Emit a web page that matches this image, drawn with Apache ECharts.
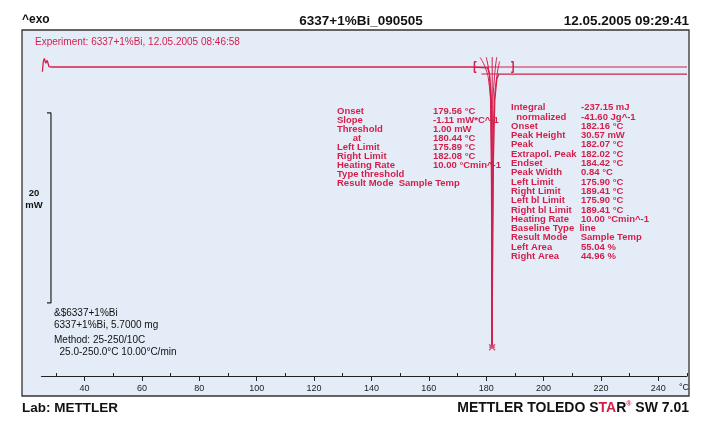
<!DOCTYPE html>
<html><head><meta charset="utf-8">
<script src="https://cdn.jsdelivr.net/npm/echarts@6/dist/echarts.min.js"></script>
<style>html,body{margin:0;padding:0;background:#fff}#c{width:710px;height:428px}</style>
</head><body><div id="c"></div>
<script>
// ---- data (temperature °C, heat flow mW relative to baseline) ----
var xTickLabels = [40, 60, 80, 100, 120, 140, 160, 180, 200, 220, 240];
var xMinorTicks = [30, 50, 70, 90, 110, 130, 150, 170, 190, 210, 230, 250];
var dscCurve = [[25.3,-0.5],[25.6,0.5],[26.0,0.9],[26.5,0.4],[27.0,0.7],[27.6,0.05],[28.5,0.0],[60,0.0],[100,0.0],[140,0.0],[175,0.0],[180.5,-0.1],[181.2,-0.8],[181.6,-3.5],[181.85,-12],[182.0,-24],[182.07,-29.4],[182.2,-22],[182.5,-10],[183.0,-3.5],[183.7,-1.3],[184.42,-0.74],[200,-0.74],[250,-0.74]];
var upperBaseline = [[176.0,0.0],[250,0.0]];
var lowerBaseline = [[178.3,-0.74],[184.42,-0.74]];
var fanLeft  = [[177.9,1.0],[179.6,0.0],[180.9,-1.5],[181.6,-5],[181.95,-15],[182.03,-29.3]];
var fanMidL  = [[180.0,1.05],[181.2,-1.0],[181.85,-4.5],[182.0,-29.3]];
var fanMid   = [[182.1,1.05],[182.1,-29.3]];
var fanMidR  = [[183.7,1.05],[182.9,-1.0],[182.35,-4.5],[182.15,-29.3]];
var fanRight = [[184.7,0.6],[183.8,-0.8],[182.9,-3.5],[182.4,-10],[182.15,-29.3]];
var leftBracket  = [[176.6,0.55],[175.9,0.55],[175.9,-0.55],[176.6,-0.55]];
var rightBracket = [[188.7,0.55],[189.41,0.55],[189.41,-0.55],[188.7,-0.55]];
var peakMark = [[182.07,-29.5]];
var scaleBar = [[26.9,-4.84],[28.3,-4.84],[28.3,-24.84],[26.9,-24.84]];
var scaleLabel = ['20', 'mW'];
var leftTableLabels = ['Onset','Slope','Threshold','      at','Left Limit','Right Limit','Heating Rate','Type threshold','Result Mode  Sample Temp'];
var leftTableValues = ['179.56 °C','-1.11 mW*C^-1','1.00 mW','180.44 °C','175.89 °C','182.08 °C','10.00 °Cmin^-1','',''];
var rightTableLabels = ['Integral','  normalized','Onset','Peak Height','Peak','Extrapol. Peak','Endset','Peak Width','Left Limit','Right Limit','Left bl Limit','Right bl Limit','Heating Rate','Baseline Type  line','Result Mode     Sample Temp','Left Area','Right Area'];
var rightTableValues = ['-237.15 mJ','-41.60 Jg^-1','182.16 °C','30.57 mW','182.07 °C','182.02 °C','184.42 °C','0.84 °C','175.90 °C','189.41 °C','175.90 °C','189.41 °C','10.00 °Cmin^-1','','','55.04 %','44.96 %'];
var sampleInfo = ['&$6337+1%Bi','6337+1%Bi, 5.7000 mg'];
var methodInfo = ['Method: 25-250/10C','  25.0-250.0°C 10.00°C/min'];

var RED = '#d41f4b';
var FF = 'Arial, Liberation Sans, sans-serif';
var chart = echarts.init(document.getElementById('c'));
function line(data, w, smooth){ return {type:'line', data:data, symbol:'none', smooth:smooth||false, silent:true,
  lineStyle:{color:RED, width:w||1.2}, z:3}; }
function T(x,y,text,o){ return {type:'text', silent:true, z:5, style:Object.assign({x:x, y:y, text:text, fill:'#111', font:'9px '+FF}, o||{})}; }

var option = {
  backgroundColor:'#fff',
  animation:false,
  grid:{left:41.5, right:23, top:30, bottom:52, containLabel:false},
  xAxis:[{type:'value', min:25, max:250,
    axisLine:{show:true, onZero:false, lineStyle:{color:'#222', width:1.2}},
    axisTick:{show:true, customValues:xTickLabels, length:5, inside:false, lineStyle:{color:'#222'}},
    axisLabel:{customValues:xTickLabels, color:'#222', fontSize:9, margin:8, fontFamily:FF},
    splitLine:{show:false}},
   {type:'value', min:25, max:250, position:'bottom',
    axisLine:{show:false, onZero:false},
    axisTick:{show:true, customValues:xMinorTicks, length:3, inside:true, lineStyle:{color:'#222'}},
    axisLabel:{show:false}, splitLine:{show:false}}],
  yAxis:{type:'value', min:-32.53, max:3.895, show:false},
  series:[
    line(dscCurve,1.3),
    line(upperBaseline,1.1),
    line(lowerBaseline,1.1),
    line(fanLeft,1,true), line(fanMidL,1,true), line(fanMid,1), line(fanMidR,1,true), line(fanRight,1,true),
    line(leftBracket,1.5), line(rightBracket,1.5),
    {type:'line', data:scaleBar, symbol:'none', silent:true, lineStyle:{color:'#222', width:1.2}},
    {type:'scatter', data:peakMark, symbol:'path://M0,0L10,10M10,0L0,10M0,5L10,5', symbolSize:6, silent:true,
      itemStyle:{color:'none', borderColor:RED, borderWidth:1.2}, z:4}
  ],
  graphic:[
    {type:'rect', z:-10, silent:true, shape:{x:22,y:30,width:667,height:366}, style:{fill:'#e4edf7', stroke:'#333', lineWidth:1.3}},
    T(22,14,'^exo',{font:'bold 12px '+FF}),
    T(361,14,'6337+1%Bi_090505',{textAlign:'center', font:'bold 13.5px '+FF}),
    T(689,14,'12.05.2005 09:29:41',{textAlign:'right', font:'bold 13.5px '+FF}),
    T(35,37,'Experiment: 6337+1%Bi, 12.05.2005 08:46:58',{fill:RED, font:'10px '+FF}),
    T(34,187,scaleLabel.join('\n'),{font:'bold 9.5px '+FF, lineHeight:12, align:'center'}),
    T(337,107,leftTableLabels.join('\n'),{fill:RED, font:'bold 9.5px '+FF, lineHeight:9}),
    T(433,107,leftTableValues.join('\n'),{fill:RED, font:'bold 9.5px '+FF, lineHeight:9}),
    T(511,103,rightTableLabels.join('\n'),{fill:RED, font:'bold 9.5px '+FF, lineHeight:9.3}),
    T(581,103,rightTableValues.join('\n'),{fill:RED, font:'bold 9.5px '+FF, lineHeight:9.3}),
    T(54,307,sampleInfo.join('\n'),{font:'10px '+FF, lineHeight:12}),
    T(54,334,methodInfo.join('\n'),{font:'10px '+FF, lineHeight:12}),
    T(689,383,'°C',{textAlign:'right', font:'9px '+FF}),
    T(22,401,'Lab: METTLER',{font:'bold 13.5px '+FF}),
    T(689,401,'{k|METTLER TOLEDO S}{r|TA}{k|R}{s|®}{k| SW 7.01}',{textAlign:'right',
      rich:{k:{fill:'#111', font:'bold 14px '+FF}, r:{fill:RED, font:'bold 14px '+FF}, s:{fill:RED, font:'bold 7px '+FF, verticalAlign:'top'}}})
  ]
};
chart.setOption(option);
</script></body></html>
